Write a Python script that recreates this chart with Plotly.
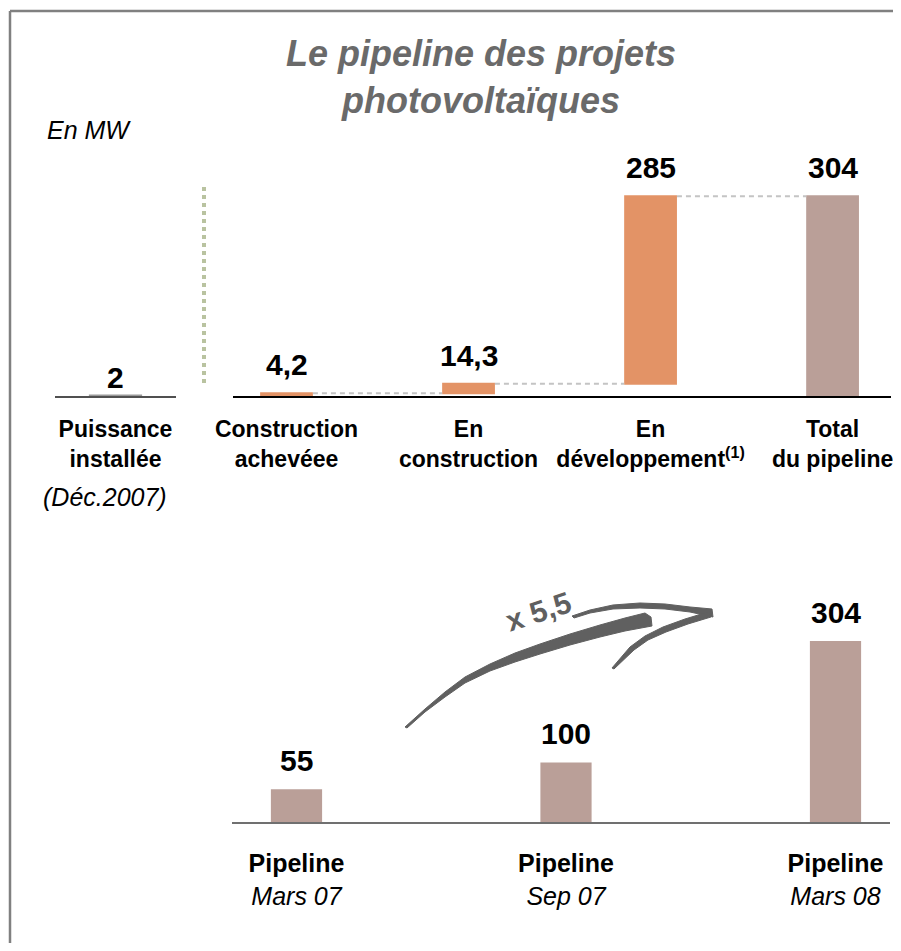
import plotly.graph_objects as go

# ---------------- data ----------------
installed_category = ["Puissance installée"]
installed_value = [2]
installed_text = ["2"]
installed_ticktext = ["<b>Puissance</b><br><b>installée</b>"]

pipeline_categories = ["Construction achevéee", "En construction", "En développement", "Total du pipeline"]
pipeline_values = [4.2, 14.3, 285, 304]
pipeline_measures = ["relative", "relative", "relative", "total"]
pipeline_text = ["4,2", "14,3", "285", "304"]
pipeline_ticktext = ["<b>Construction</b><br><b>achevéee</b>",
                     "<b>En</b><br><b>construction</b>",
                     "<b>En</b><br><b>développement<sup>(1)</sup></b>",
                     "<b>Total</b><br><b>du pipeline</b>"]

history_categories = ["Pipeline Mars 07", "Pipeline Sep 07", "Pipeline Mars 08"]
history_values = [55, 100, 304]
history_text = ["55", "100", "304"]
history_ticktext = ["<b>Pipeline</b><br><i>Mars 07</i>",
                    "<b>Pipeline</b><br><i>Sep 07</i>",
                    "<b>Pipeline</b><br><i>Mars 08</i>"]

growth_text = "x 5,5"

# ---------------- style ----------------
OFF = 8  # page body margin
W, H = 901 - 2 * OFF, 951 - 2 * OFF
FONT = "Liberation Sans, Arial, sans-serif"
ORANGE = "#E39366"
TAUPE = "#BA9F98"
GREY_BAR = "#9a9a9a"
ARROW = "#606060"


def px(x):
    return (x - OFF) / W


def py(y):
    return 1 - (y - OFF) / H


def path(points):
    return "M " + " L ".join(f"{px(x):.5f},{py(y):.5f}" for x, y in points) + " Z"


fig = go.Figure()

# installed power bar
fig.add_trace(go.Bar(
    x=installed_category, y=installed_value, xaxis="x2", yaxis="y",
    marker=dict(color=GREY_BAR, line=dict(width=0)), width=0.44,
    showlegend=False, hoverinfo="skip"))

# pipeline waterfall
fig.add_trace(go.Waterfall(
    x=pipeline_categories, y=pipeline_values, measure=pipeline_measures,
    xaxis="x", yaxis="y",
    increasing=dict(marker=dict(color=ORANGE)),
    decreasing=dict(marker=dict(color=ORANGE)),
    totals=dict(marker=dict(color=TAUPE)),
    connector=dict(mode="between", line=dict(color="#c4c4c4", width=2, dash="5px,4px")),
    width=0.29, showlegend=False, hoverinfo="skip"))

# pipeline history
fig.add_trace(go.Bar(
    x=history_categories, y=history_values, xaxis="x3", yaxis="y2",
    marker=dict(color=TAUPE, line=dict(width=0)), width=0.19,
    showlegend=False, hoverinfo="skip"))

# value labels
annotations = []
lab_font = dict(family=FONT, size=30, color="black", weight="bold")
for c, v, t in zip(installed_category, installed_value, installed_text):
    annotations.append(dict(x=c, y=v, xref="x2", yref="y", text=t, showarrow=False,
                            yanchor="bottom", yshift=-1, font=lab_font))
run = 0
for c, v, m, t in zip(pipeline_categories, pipeline_values, pipeline_measures, pipeline_text):
    if m == "relative":
        run += v
    annotations.append(dict(x=c, y=run, xref="x", yref="y", text=t, showarrow=False,
                            yanchor="bottom", yshift=10, font=lab_font))
for c, v, t in zip(history_categories, history_values, history_text):
    annotations.append(dict(x=c, y=v, xref="x3", yref="y2", text=t, showarrow=False,
                            yanchor="bottom", yshift=10, font=lab_font))

annotations.append(dict(x=px(89), y=py(130), xref="paper", yref="paper", text="En MW",
                        showarrow=False, xanchor="center", yanchor="middle",
                        font=dict(family=FONT, size=25, color="black", style="italic")))
annotations.append(dict(x=px(105), y=py(497), xref="paper", yref="paper", text="(Déc.2007)",
                        showarrow=False, xanchor="center", yanchor="middle",
                        font=dict(family=FONT, size=25, color="black", style="italic")))
annotations.append(dict(x=px(538), y=py(611), xref="paper", yref="paper", text=growth_text,
                        showarrow=False, xanchor="center", yanchor="middle", textangle=-18,
                        font=dict(family=FONT, size=30, color=ARROW, weight="bold")))

# decorative shapes
shapes = []
shapes.append(dict(type="line", xref="paper", yref="paper", x0=px(10), x1=1.0, y0=py(11), y1=py(11),
                   line=dict(color="#808080", width=2.5)))
shapes.append(dict(type="line", xref="paper", yref="paper", x0=px(10), x1=px(10), y0=py(11), y1=0,
                   line=dict(color="#808080", width=2.5)))
shapes.append(dict(type="line", xref="paper", yref="paper", x0=px(204), x1=px(204), y0=py(187), y1=py(383),
                   line=dict(color="#b9c3a0", width=4, dash="dot")))

shaft = [(405, 727), (425, 709), (445, 692), (465, 677), (490, 664), (515, 653), (540, 644),
         (570, 634), (600, 625), (625, 618), (645, 613),
         (651, 617), (652, 626), (625, 631), (600, 637), (570, 645), (540, 654), (515, 662),
         (490, 671), (465, 683), (445, 697), (425, 712), (407, 728)]
head_top = [(572, 616), (590, 610), (613, 605), (640, 603), (665, 604), (690, 607), (712, 609),
            (713, 617), (690, 612), (665, 609), (640, 608), (613, 609), (590, 613), (574, 618)]
head_low = [(708, 612), (685, 619), (663, 627), (645, 636), (630, 647), (612, 668),
            (614, 669), (634, 650), (648, 640), (666, 632), (688, 624), (711, 617)]
for pts in (shaft, head_top, head_low):
    shapes.append(dict(type="path", xref="paper", yref="paper", path=path(pts),
                       fillcolor=ARROW, line=dict(color=ARROW, width=1)))

tickfont_top = dict(family=FONT, size=23, color="black")

fig.update_layout(
    width=W, height=H,
    margin=dict(l=0, r=0, t=0, b=0, autoexpand=False),
    paper_bgcolor="white", plot_bgcolor="rgba(0,0,0,0)",
    font=dict(family=FONT, color="black"),
    title=dict(text="Le pipeline des projets<br>photovoltaïques",
               x=px(481), xanchor="center", y=py(66), yanchor="top",
               font=dict(family=FONT, size=36, color="#6a6a6a", weight="bold", style="italic")),
    xaxis=dict(domain=[px(233), px(891)], anchor="y", type="category", automargin=False,
               range=[-0.294, 3.321], showline=True, linecolor="black", linewidth=1.5,
               showgrid=False, zeroline=False, ticks="",
               tickmode="array", tickvals=pipeline_categories, ticktext=pipeline_ticktext,
               tickfont=tickfont_top, ticklabelstandoff=12, fixedrange=True),
    xaxis2=dict(domain=[px(55), px(176)], anchor="y", type="category", automargin=False,
                range=[-0.5, 0.5], showline=True, linecolor="#505050", linewidth=1.5,
                showgrid=False, zeroline=False, ticks="",
                tickmode="array", tickvals=installed_category, ticktext=installed_ticktext,
                tickfont=tickfont_top, ticklabelstandoff=12, fixedrange=True),
    yaxis=dict(domain=[py(396), py(396 - 320 * 200 / 304)], range=[0, 320], visible=False,
               automargin=False, fixedrange=True),
    xaxis3=dict(domain=[px(232), px(890)], anchor="y2", type="category", automargin=False,
                range=[-0.2393, 2.2022], showline=True, linecolor="#707070", linewidth=2,
                showgrid=False, zeroline=False, ticks="",
                tickmode="array", tickvals=history_categories, ticktext=history_ticktext,
                tickfont=dict(family=FONT, size=25, color="black"), ticklabelstandoff=18,
                fixedrange=True),
    yaxis2=dict(domain=[py(822), py(822 - 330 * 181 / 304)], range=[0, 330], visible=False,
                automargin=False, fixedrange=True),
    annotations=annotations,
    shapes=shapes,
    showlegend=False,
)

fig.write_html("out.html", config={"displayModeBar": False})
